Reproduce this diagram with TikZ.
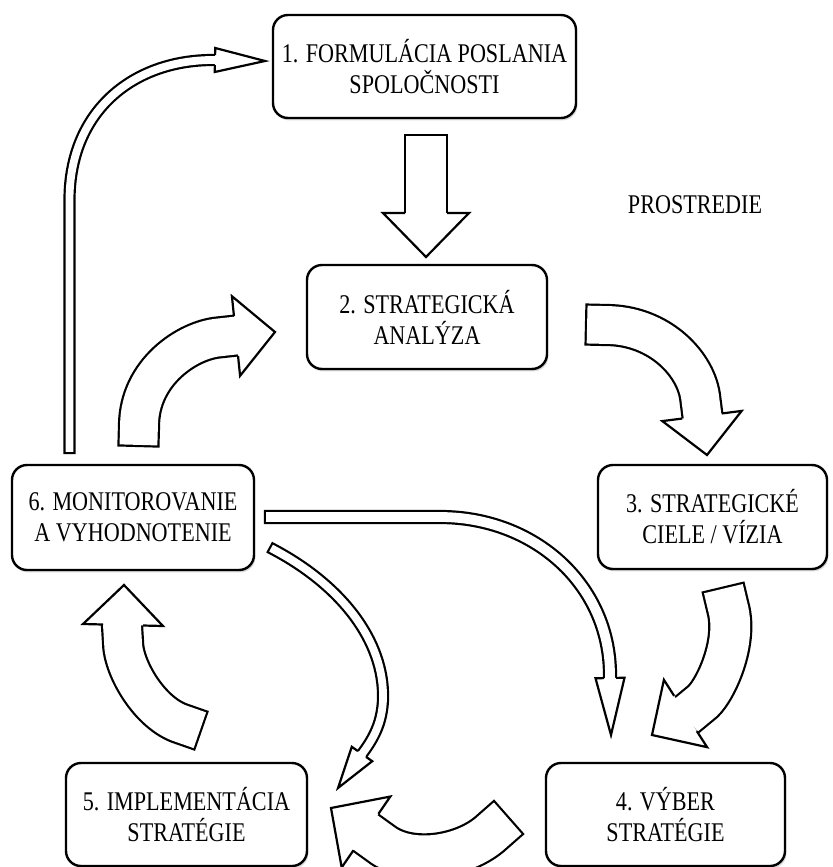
\documentclass[tikz,border=0pt]{standalone}
\usepackage{fontspec}
\setmainfont{Liberation Serif}[FakeStretch=0.82]
\usetikzlibrary{calc,shadows}

% open head of a block arrow: base, tip, half shaft, half head
\newcommand\hollowtip[4]{\filldraw[fill=white,line width=1.1pt]
 ($(#1)!#3!90:(#2)$) -- ($(#1)!#4!90:(#2)$) -- (#2) -- ($(#1)!#4!-90:(#2)$) -- ($(#1)!#3!-90:(#2)$);}

\begin{document}
\begin{tikzpicture}[x=0.5pt,y=-0.5pt,
 box/.style={draw,line width=1.2pt,rounded corners=7.5pt,fill=white,align=center,inner sep=0pt,
  font=\fontsize{13.5}{15.5}\selectfont,
  drop shadow={opacity=0.3,shadow xshift=0.7pt,shadow yshift=-1.2pt}},
 hollow/.style={draw=black,line width=1.1pt,double=white,double distance=#1,line cap=rect}]
\useasboundingbox (0,0) rectangle (832,867);

\node[box,minimum width=151.5pt,minimum height=51.5pt] (b1) at (424.5,66.5) {1. FORMULÁCIA POSLANIA\\SPOLOČNOSTI};
\node[box,minimum width=120pt,minimum height=52pt] (b2) at (427,317) {2. STRATEGICKÁ\\ANALÝZA};
\node[box,minimum width=114.5pt,minimum height=52pt] (b3) at (712.5,517) {3. STRATEGICKÉ\\CIELE / VÍZIA};
\node[box,minimum width=119.5pt,minimum height=51.5pt] (b4) at (665.5,814.5) {4. VÝBER\\STRATÉGIE};
\node[box,minimum width=120.5pt,minimum height=51.5pt] (b5) at (186.5,814.5) {5. IMPLEMENTÁCIA\\STRATÉGIE};
\node[box,minimum width=121pt,minimum height=52.5pt] (b6) at (133,517.5) {6. MONITOROVANIE\\A VYHODNOTENIE};
\node[font=\fontsize{13.5}{15.5}\selectfont] (env) at (695,205) {PROSTREDIE};

% 1 -> 2
\coordinate (a12s) at (426,156); \coordinate (a12b) at (426,213); \coordinate (a12t) at (426,257);
\draw[hollow=19.9pt,shorten >=9pt] (a12s) -- (a12b);
\hollowtip{a12b}{a12t}{10.5pt}{21.5pt}
% 2 -> 3
\coordinate (a23s) at (606,325); \coordinate (a23b) at (702,416); \coordinate (a23t) at (707,455);
\draw[hollow=18.9pt,shorten >=8.5pt] (a23s) .. controls (660,325) and (697,365) .. (a23b);
\hollowtip{a23b}{a23t}{10pt}{20pt}
% 3 -> 4
\coordinate (a34s) at (728,608); \coordinate (a34b) at (685.5,713.5); \coordinate (a34t) at (652,735);
\draw[hollow=19.9pt,shorten >=9pt] (a34s) .. controls (738,645) and (713,695) .. (a34b);
\hollowtip{a34b}{a34t}{10.5pt}{20pt}
% 4 -> 5
\coordinate (a45s) at (492,832); \coordinate (a45b) at (366,832); \coordinate (a45t) at (331,808);
\draw[hollow=20.9pt,shorten >=9.5pt] (a45s) .. controls (465,857) and (410,866) .. (a45b);
\hollowtip{a45b}{a45t}{11pt}{21.5pt}
% 5 -> 6
\coordinate (a56s) at (182,724); \coordinate (a56b) at (123,625); \coordinate (a56t) at (124,585);
\draw[hollow=18.9pt,shorten >=8.5pt] (a56s) .. controls (150,714) and (123,668) .. (a56b);
\hollowtip{a56b}{a56t}{10pt}{20pt}
% 6 -> 2
\coordinate (a62s) at (139,426); \coordinate (a62b) at (236,336); \coordinate (a62t) at (275,332);
\draw[hollow=18.9pt,shorten >=8.5pt] (a62s) .. controls (139,372) and (188,340) .. (a62b);
\hollowtip{a62b}{a62t}{10pt}{20pt}
% 6 -> 1
\coordinate (a61s) at (69.5,448); \coordinate (a61b) at (215,60); \coordinate (a61t) at (265,61);
\draw[hollow=3.9pt,shorten >=1pt] (a61s) -- (69.5,200) .. controls (69.5,112) and (132,60) .. (a61b);
\hollowtip{a61b}{a61t}{2.5pt}{6pt}
% 6 -> 4
\coordinate (a64s) at (271,517); \coordinate (a64b) at (610,678); \coordinate (a64t) at (611,735);
\draw[hollow=4.9pt,shorten >=1.5pt] (a64s) -- (440,517) .. controls (535,517) and (610,585) .. (a64b);
\hollowtip{a64b}{a64t}{3pt}{7.25pt}
% 6 -> 5
\coordinate (a65s) at (274.5,550); \coordinate (a65b) at (362,754); \coordinate (a65t) at (338,788);
\draw[hollow=3.9pt,shorten >=1pt] (a65s) .. controls (340,585) and (385,640) .. (383,700)
 .. controls (382,720) and (376,735) .. (a65b);
\hollowtip{a65b}{a65t}{2.5pt}{6.25pt}
\end{tikzpicture}
\end{document}
